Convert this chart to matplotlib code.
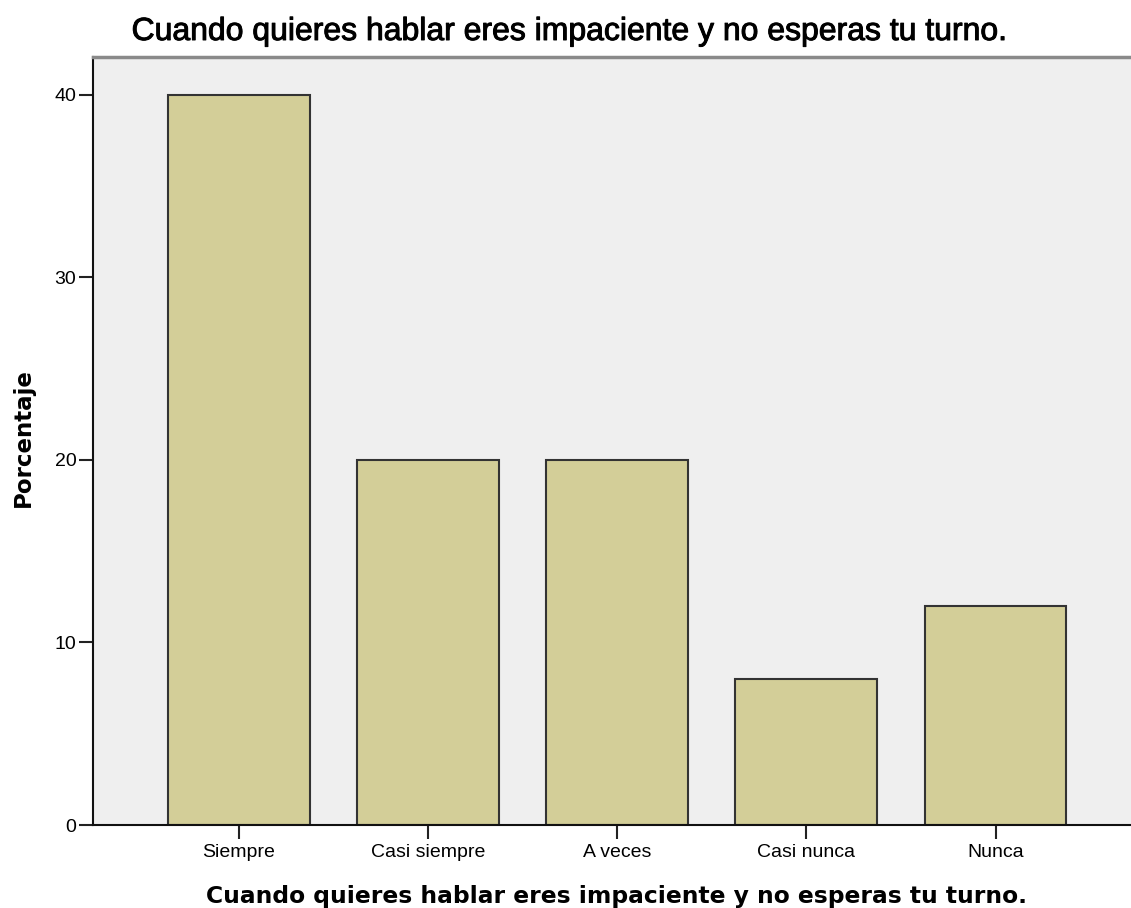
import matplotlib
matplotlib.use("Agg")
import matplotlib.pyplot as plt
import matplotlib.patheffects as pe

categories = ["Siempre", "Casi siempre", "A veces", "Casi nunca", "Nunca"]
values = [40, 20, 20, 8, 12]
yticks = [0, 10, 20, 30, 40]
title = "Cuando quieres hablar eres impaciente y no esperas tu turno."

W, H = 1131, 908
fig = plt.figure(figsize=(W / 100, H / 100), dpi=100)
left, right, top, bottom = 93, 1131, 57, 825
ax = fig.add_axes([left / W, 1 - bottom / H, (right - left) / W, (bottom - top) / H])
ax.set_facecolor("#efefef")

x = list(range(len(categories)))
ax.bar(x, values, width=0.75, color="#d3ce98", edgecolor="#333333", linewidth=1.5, zorder=2)

ax.set_xlim(-0.771, 4.716)
ax.set_ylim(0, 42.08)
ax.set_xticks(x)
ax.set_xticklabels(categories, fontsize=14, family="Liberation Sans")
ax.set_yticks(yticks)
ax.set_yticklabels([str(v) for v in yticks], fontsize=14, family="Liberation Sans")
ax.tick_params(axis="both", length=10, width=1.5, color="#222222")
ax.tick_params(axis="y", pad=2)
ax.tick_params(axis="x", pad=4)

ax.spines["right"].set_visible(False)
ax.spines["top"].set_color("#8a8a8a")
ax.spines["top"].set_linewidth(2.5)
for s in ["left", "bottom"]:
    ax.spines[s].set_color("#111111")
    ax.spines[s].set_linewidth(1.5)

fig.text(570 / W, 1 - 40 / H, title, ha="center", va="baseline", fontsize=23,
         family="Liberation Sans",
         path_effects=[pe.withStroke(linewidth=0.7, foreground="black")])
fig.text(617 / W, 1 - 903 / H, title, ha="center", va="baseline", fontsize=16.8,
         family="DejaVu Sans", fontweight="bold")
fig.text(23 / W, 1 - 438 / H, "Porcentaje", ha="center", va="center", fontsize=16.5,
         family="DejaVu Sans", fontweight="bold", rotation=90)

fig.savefig("out.png", dpi=100)
